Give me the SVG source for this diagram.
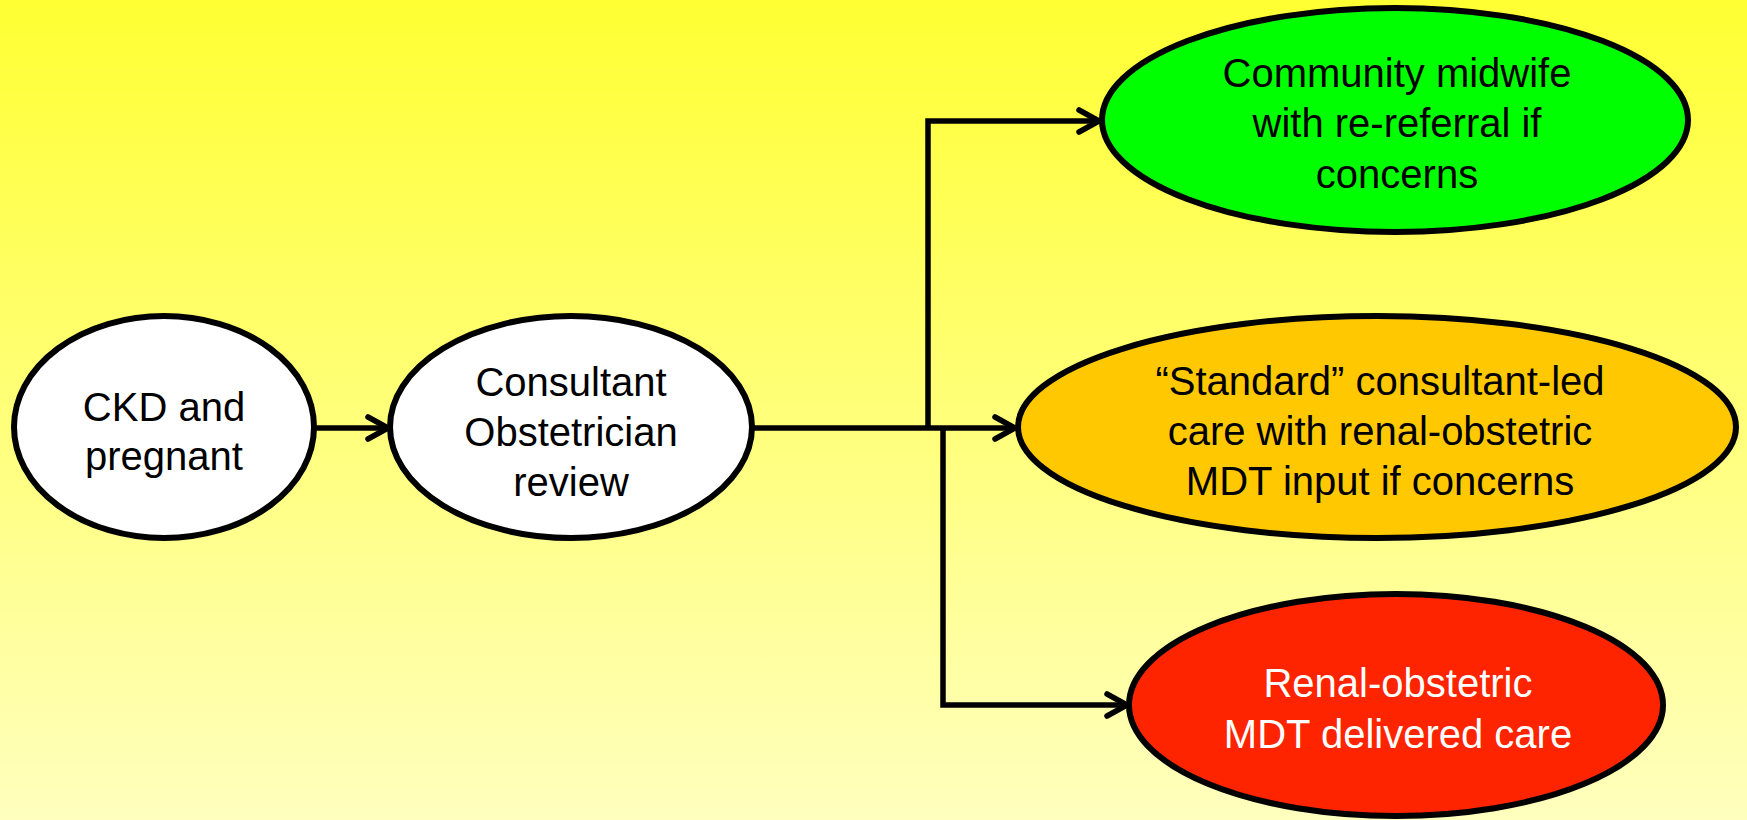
<svg xmlns="http://www.w3.org/2000/svg" width="1747" height="820" viewBox="0 0 1747 820">
<defs>
<linearGradient id="bg" x1="0" y1="0" x2="0" y2="1">
<stop offset="0" stop-color="#FFFF33"/>
<stop offset="1" stop-color="#FFFFBE"/>
</linearGradient>
<marker id="arr" viewBox="0 0 30 30" refX="26" refY="15" markerWidth="30" markerHeight="30" markerUnits="userSpaceOnUse" orient="auto">
<path d="M6,4 L26,15 L6,26" fill="none" stroke="#000" stroke-width="5.5" stroke-linecap="round" stroke-linejoin="miter"/>
</marker>
<style>
.n{stroke:#000;stroke-width:6}
.t{font-family:"Liberation Sans",Arial,sans-serif;font-size:40px;text-anchor:middle;fill:#000}
.w{fill:#fff}
.c{fill:none;stroke:#000;stroke-width:5.5;stroke-linejoin:miter}
</style>
</defs>
<rect x="0" y="0" width="1747" height="820" fill="url(#bg)"/>
<g id="connectors">
<line class="c" x1="316" y1="428" x2="388" y2="428" marker-end="url(#arr)"/>
<line class="c" x1="754" y1="428" x2="1015" y2="428" marker-end="url(#arr)"/>
<polyline class="c" points="928,428 928,121 1099,121" marker-end="url(#arr)"/>
<polyline class="c" points="943,428 943,705 1127,705" marker-end="url(#arr)"/>
</g>
<g id="ckd">
<ellipse class="n" cx="164" cy="427" rx="150" ry="111" fill="#fff"/>
<text class="t" x="164" y="421">CKD and</text>
<text class="t" x="164" y="470">pregnant</text>
</g>
<g id="consultant">
<ellipse class="n" cx="571" cy="427" rx="181" ry="111" fill="#fff"/>
<text class="t" x="571" y="396">Consultant</text>
<text class="t" x="571" y="446">Obstetrician</text>
<text class="t" x="571" y="496">review</text>
</g>
<g id="midwife">
<ellipse class="n" cx="1395" cy="120" rx="293" ry="112" fill="#00FF00"/>
<text class="t" x="1397" y="87">Community midwife</text>
<text class="t" x="1397" y="137">with re-referral if</text>
<text class="t" x="1397" y="188">concerns</text>
</g>
<g id="standard">
<ellipse class="n" cx="1377" cy="427" rx="359" ry="111" fill="#FFC800"/>
<text class="t" x="1380" y="395">“Standard” consultant-led</text>
<text class="t" x="1380" y="445">care with renal-obstetric</text>
<text class="t" x="1380" y="495">MDT input if concerns</text>
</g>
<g id="mdt">
<ellipse class="n" cx="1396" cy="705" rx="267" ry="111" fill="#FF2400"/>
<text class="t w" x="1398" y="697">Renal-obstetric</text>
<text class="t w" x="1398" y="748">MDT delivered care</text>
</g>
</svg>
